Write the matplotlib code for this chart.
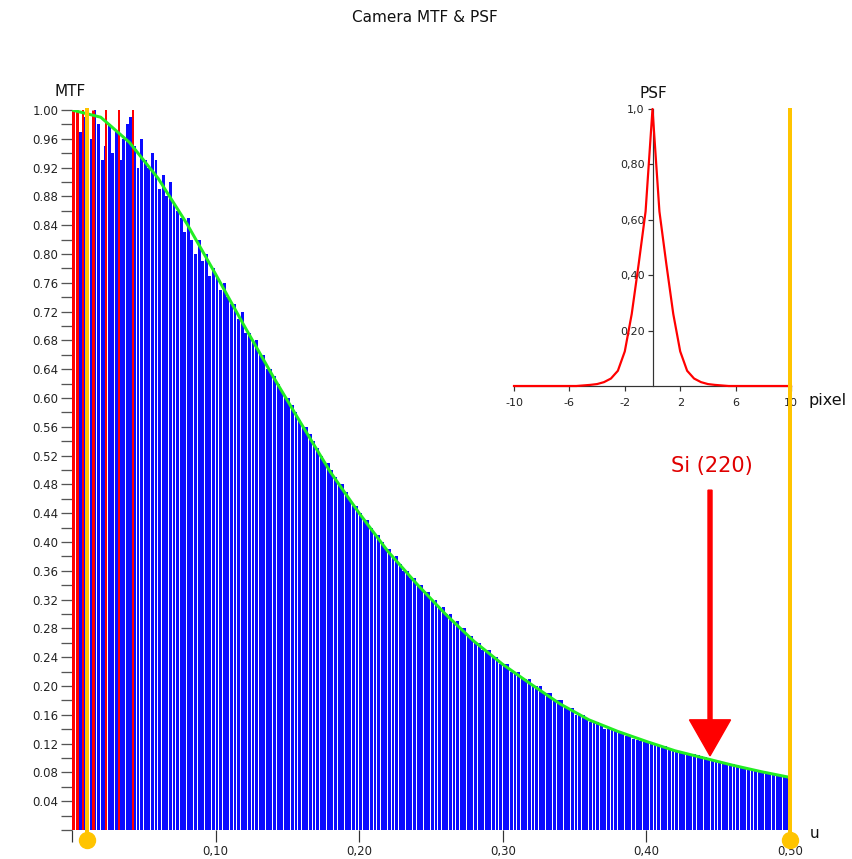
import numpy as np
import matplotlib
matplotlib.use('Agg')
import matplotlib.pyplot as plt

plt.rcParams['font.family'] = ['DejaVu Sans']

# ---------------- data ----------------
curve_u = [0.00, 0.02, 0.04, 0.06, 0.08, 0.10, 0.12, 0.14, 0.16, 0.18, 0.20, 0.22, 0.24,
           0.26, 0.28, 0.30, 0.32, 0.34, 0.36, 0.38, 0.40, 0.42, 0.44, 0.46, 0.48, 0.50]
curve_mtf = [1.000, 0.990, 0.955, 0.905, 0.842, 0.772, 0.700, 0.630, 0.563, 0.497, 0.440, 0.387, 0.342,
             0.300, 0.262, 0.230, 0.202, 0.175, 0.153, 0.137, 0.123, 0.110, 0.100, 0.090, 0.081, 0.073]

bar_mtf = [
    0.98, 1.00, 0.97, 0.99, 0.99, 0.96, 1.00, 0.98, 0.93, 0.95,
    0.98, 0.94, 0.97, 0.93, 0.96, 0.98, 0.99, 0.95, 0.92, 0.96,
    0.93, 0.92, 0.94, 0.93, 0.89, 0.91, 0.88, 0.90, 0.87, 0.86,
    0.85, 0.83, 0.85, 0.82, 0.80, 0.82, 0.79, 0.80, 0.77, 0.78,
    0.77, 0.75, 0.76, 0.74, 0.73, 0.73, 0.71, 0.72, 0.69, 0.69,
    0.68, 0.68, 0.66, 0.66, 0.64, 0.64, 0.63, 0.62, 0.61, 0.60,
    0.60, 0.59, 0.58, 0.57, 0.56, 0.56, 0.55, 0.54, 0.53, 0.52,
    0.51, 0.51, 0.50, 0.49, 0.48, 0.48, 0.47, 0.46, 0.45, 0.45,
    0.44, 0.43, 0.43, 0.42, 0.41, 0.41, 0.40, 0.39, 0.39, 0.38,
    0.38, 0.37, 0.36, 0.36, 0.35, 0.35, 0.34, 0.34, 0.33, 0.33,
    0.32, 0.32, 0.31, 0.31, 0.30, 0.30, 0.29, 0.29, 0.28, 0.28,
    0.27, 0.27, 0.26, 0.26, 0.25, 0.25, 0.25, 0.24, 0.24, 0.23,
    0.23, 0.23, 0.22, 0.22, 0.22, 0.21, 0.21, 0.21, 0.20, 0.20,
    0.20, 0.19, 0.19, 0.19, 0.18, 0.18, 0.18, 0.17, 0.17, 0.17,
    0.16, 0.16, 0.16, 0.155, 0.15, 0.15, 0.15, 0.145, 0.14, 0.14,
    0.14, 0.137, 0.135, 0.133, 0.131, 0.13, 0.127, 0.125, 0.124, 0.122,
    0.123, 0.121, 0.12, 0.118, 0.117, 0.116, 0.114, 0.113, 0.111, 0.110,
    0.108, 0.107, 0.106, 0.105, 0.104, 0.103, 0.101, 0.100, 0.099, 0.097,
    0.096, 0.094, 0.093, 0.092, 0.091, 0.090, 0.089, 0.087, 0.086, 0.085,
    0.084, 0.083, 0.082, 0.080, 0.079, 0.078, 0.077, 0.076, 0.075, 0.074,
]
bar_step = 0.0025

red_u = [0.001, 0.0035, 0.008, 0.0145, 0.024, 0.033, 0.0425]
red_lw_px = [3, 3, 2, 3, 2, 2, 2]
orange_u = [0.0105, 0.5]

psf_x = np.arange(-10, 10.01, 0.5)
psf_val = [0, 0, 0, 0, 0, 0, 0, 0, 0, 0,
           0.002, 0.004, 0.007, 0.014, 0.027, 0.055, 0.125, 0.26, 0.44, 0.63,
           1.0,
           0.63, 0.44, 0.26, 0.125, 0.055, 0.027, 0.014, 0.007, 0.004, 0.002,
           0, 0, 0, 0, 0, 0, 0, 0, 0, 0]

main_xticks = [0.0, 0.1, 0.2, 0.3, 0.4, 0.5]
main_xticklabels = ['', '0,10', '0,20', '0,30', '0,40', '0,50']
psf_yticks = [0.2, 0.4, 0.6, 0.8, 1.0]
psf_yticklabels = ['0,20', '0,40', '0,60', '0,80', '1,0']
psf_xticks = [-10, -6, -2, 2, 6, 10]

# ---------------- figure ----------------
W, H = 852, 859
fig = plt.figure(figsize=(W / 100, H / 100), dpi=100)
px = 72 / 100  # points per pixel

ax = fig.add_axes([72 / W, 1 - 830 / H, (790 - 72) / W, (830 - 110) / H])
ax.set_xlim(0, 0.5)
ax.set_ylim(0, 1.0)
ax.patch.set_visible(False)
for s in ax.spines.values():
    s.set_visible(False)

bar_u = np.arange(len(bar_mtf)) * bar_step
ax.bar(bar_u, bar_mtf, width=bar_step * 0.8, align='edge', color='#0a0aff',
       edgecolor='none', zorder=1)

for u, lw in zip(red_u, red_lw_px):
    ax.vlines(u, 0, 1.0, color='#ff0000', lw=lw * px, zorder=2)

ax.plot(curve_u, curve_mtf, color='#22ee22', lw=3 * px, zorder=3, solid_capstyle='round')

ygold = -0.014
for u in orange_u:
    ax.vlines(u, ygold, 1.003, color='#ffc400', lw=4 * px, zorder=4, clip_on=False)
    ax.plot([u], [ygold], 'o', color='#ffc400', ms=16 * px, zorder=5, clip_on=False)

# ticks
yt = np.round(np.arange(0, 1.0001, 0.02), 2)
ax.set_yticks(yt)
ax.set_yticklabels(['%.2f' % v if (round(v * 100) % 4 == 0 and v > 0) else '' for v in yt])
ax.tick_params(axis='y', direction='out', length=11 * px, width=1.3 * px, color='#555555',
               labelsize=8.5, pad=2, labelcolor='#222222')
ax.set_xticks(main_xticks)
ax.set_xticklabels(main_xticklabels)
ax.tick_params(axis='x', direction='out', length=12 * px, width=1.2 * px, color='#333333',
               labelsize=8.5, pad=2, labelcolor='#222222')

# arrow + label
ax.arrow(0.4443, 0.472, 0, 0.103 - 0.472, width=0.0028, head_width=0.0286, head_length=0.05,
         length_includes_head=True, color='#ff0000', zorder=6)
ax.text(0.4457, 0.5056, 'Si (220)', color='#e00000', fontsize=15, ha='center', va='center')

fig.text(70 / W, 1 - 92 / H, 'MTF', ha='center', va='center', fontsize=11, color='#111111')
fig.text(815 / W, 1 - 834 / H, 'u', ha='center', va='center', fontsize=11, color='#111111')
fig.text(425 / W, 1 - 17 / H, 'Camera MTF & PSF', ha='center', va='center', fontsize=11,
         color='#111111')

# ---------------- PSF inset ----------------
ins = fig.add_axes([514 / W, 1 - 386 / H, (791 - 514) / W, (386 - 109) / H])
ins.patch.set_visible(False)
ins.set_xlim(-10, 10)
ins.set_ylim(0, 1.0)
ins.spines['left'].set_position(('data', 0))
ins.spines['top'].set_visible(False)
ins.spines['right'].set_visible(False)
ins.spines['left'].set_color('#333333')
ins.spines['bottom'].set_color('#333333')
ins.spines['left'].set_linewidth(1.2 * px)
ins.spines['bottom'].set_linewidth(1.2 * px)
ins.plot(psf_x, psf_val, color='#ff0000', lw=2.2 * px, zorder=3, clip_on=False)
ins.set_yticks(psf_yticks)
ins.set_yticklabels(psf_yticklabels)
ins.set_xticks(psf_xticks)
ins.set_xticklabels([str(v) for v in psf_xticks])
ins.tick_params(axis='both', direction='out', length=5 * px, width=1.2 * px, color='#333333',
                labelsize=8, labelcolor='#222222')
ins.tick_params(axis='x', pad=5)
ins.tick_params(axis='y', pad=2)
fig.text(653 / W, 1 - 94 / H, 'PSF', ha='center', va='center', fontsize=11, color='#111111')
fig.text(828 / W, 1 - 400 / H, 'pixel', ha='center', va='center', fontsize=11.5, color='#111111')

ax.set_zorder(2)
ins.set_zorder(1)

fig.savefig('out.png', dpi=100)
